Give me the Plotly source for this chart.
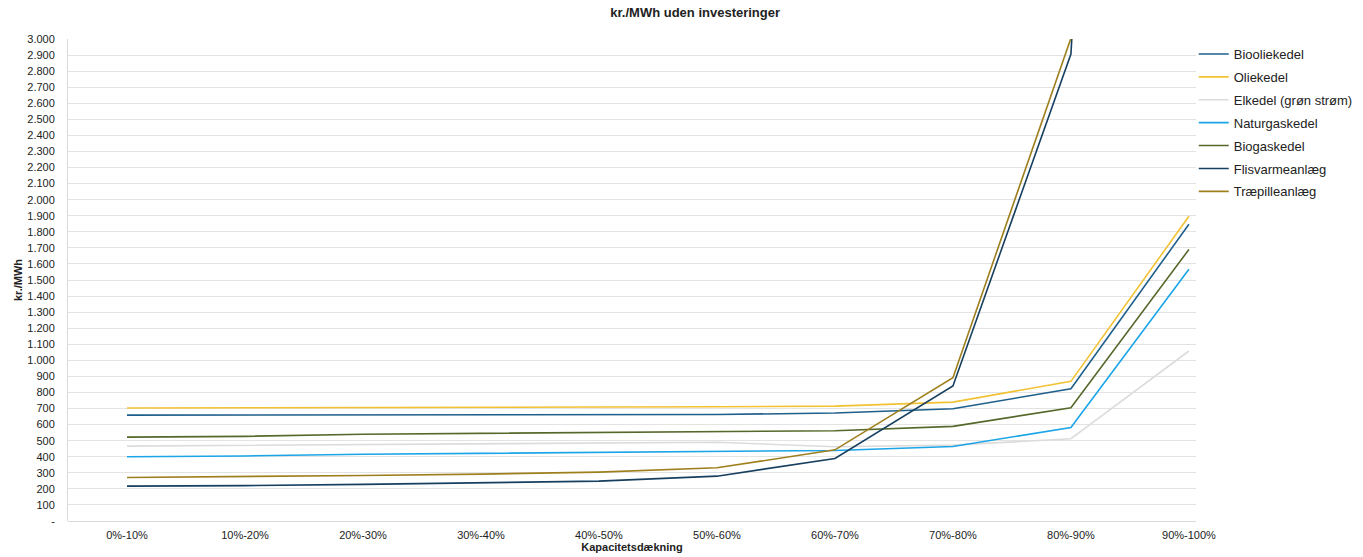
import plotly.graph_objects as go

categories = ["0%-10%", "10%-20%", "20%-30%", "30%-40%", "40%-50%",
              "50%-60%", "60%-70%", "70%-80%", "80%-90%", "90%-100%"]

biooliekedel = [659, 660, 660, 661, 661, 663, 672, 699, 823, 1847]
oliekedel = [703, 704, 705, 706, 706, 711, 715, 740, 869, 1897]
elkedel = [466, 470, 476, 481, 486, 490, 462, 472, 512, 1058]
naturgaskedel = [400, 405, 415, 420, 427, 433, 439, 464, 582, 1567]
biogaskedel = [522, 527, 540, 546, 551, 556, 562, 589, 705, 1690]
flisvarmeanlaeg = [217, 220, 228, 238, 248, 279, 389, 840, 2906, 16000]
traepilleanlaeg = [271, 275, 283, 292, 304, 331, 443, 892, 3005, 17000]

series = [
    ("Biooliekedel", biooliekedel, "#1f5f8b"),
    ("Oliekedel", oliekedel, "#f2c233"),
    ("Elkedel (grøn strøm)", elkedel, "#dcdcdc"),
    ("Naturgaskedel", naturgaskedel, "#1ba5e6"),
    ("Biogaskedel", biogaskedel, "#56692b"),
    ("Flisvarmeanlæg", flisvarmeanlaeg, "#173f5f"),
    ("Træpilleanlæg", traepilleanlaeg, "#9e7f1e"),
]

y_ticks = list(range(0, 3001, 100))
y_ticktext = ["-" if v == 0 else f"{v:,}".replace(",", ".") for v in y_ticks]

fig = go.Figure()
for i, (name, vals, color) in enumerate(series):
    fig.add_trace(go.Scatter(
        x=list(range(len(categories))), y=vals, name=name, mode="lines",
        line=dict(color=color, width=1.6), legendgroup=f"g{i}",
    ))

font_family = "Liberation Sans, Arial, sans-serif"

fig.update_layout(
    width=1363, height=557,
    margin=dict(l=68, r=167, t=39, b=36, autoexpand=False),
    paper_bgcolor="white", plot_bgcolor="white",
    font=dict(family=font_family, size=11, color="#404040"),
    title=dict(text="<b>kr./MWh uden investeringer</b>", x=0.556, xref="paper",
               xanchor="center", y=0.985, yanchor="top",
               font=dict(size=13, color="#222222")),
    showlegend=True,
    legend=dict(x=0.998, xanchor="left", y=1.0, yanchor="top",
                font=dict(size=13, color="#222222"), tracegroupgap=3,
                bgcolor="rgba(0,0,0,0)", itemwidth=30),
    xaxis=dict(
        range=[-0.5, 9.06], tickmode="array",
        tickvals=list(range(len(categories))), ticktext=categories,
        showgrid=False, zeroline=False, showline=False, ticks="",
        ticklabelstandoff=6, automargin=False,
        tickfont=dict(size=11, color="#222222"),
        title=dict(text="<b>Kapacitetsdækning</b>", standoff=3,
                   font=dict(size=11, color="#222222")),
    ),
    yaxis=dict(
        range=[0, 3000], tickmode="array", tickvals=y_ticks, ticktext=y_ticktext,
        showgrid=True, gridcolor="#e3e3e3", gridwidth=1,
        zeroline=True, zerolinecolor="#d9d9d9", zerolinewidth=1,
        showline=True, linecolor="#d9d9d9", linewidth=1, ticks="",
        ticklabelstandoff=10, automargin=False,
        tickfont=dict(size=11, color="#222222"),
        title=dict(text="<b>kr./MWh</b>", standoff=2,
                   font=dict(size=11, color="#222222")),
    ),
)

fig.write_html("out.html")
